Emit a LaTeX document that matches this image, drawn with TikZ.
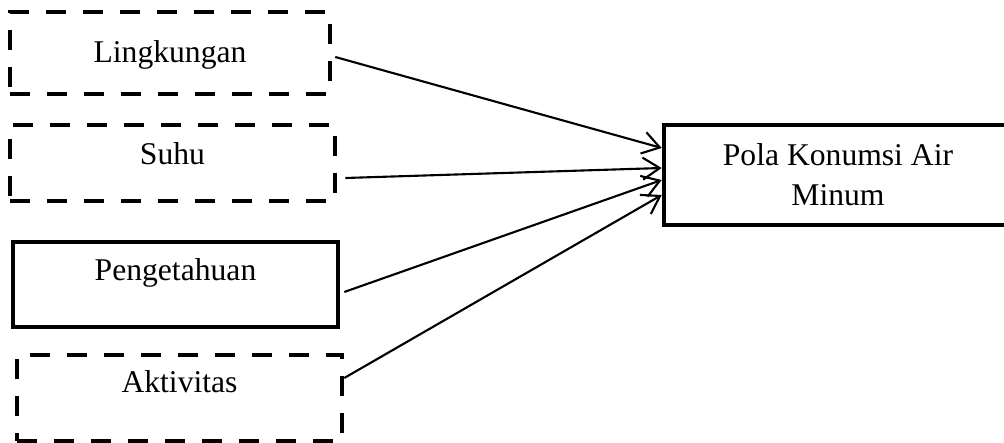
\documentclass[tikz,border=0pt]{standalone}
\usepackage{fontspec}
\setmainfont{Liberation Serif}
\usetikzlibrary{arrows.meta}

\begin{document}
\begin{tikzpicture}[->,>={Straight Barb[length=0.34cm,width=0.44cm]},
  every node/.style={font=\fontsize{18}{22.8}\selectfont, inner sep=0pt},
  dashbox/.style={draw, line width=2.6pt, dash pattern=on 0.4cm off 0.34cm, anchor=base, minimum width=6.5cm},
  solidbox/.style={draw, line width=2.6pt, anchor=base, minimum width=6.5cm},
  link/.style={line width=1.2pt}]
\clip (0,0) rectangle (20.08,8.86);
%left column
\node[dashbox, minimum width=6.4cm, text height=1.02cm, text depth=0.62cm] (lingkungan) at (3.4,7.6) {Lingkungan};
\node[dashbox, text height=0.8cm, text depth=0.72cm] (suhu) at (3.45,5.56) {Suhu};
\node[solidbox, text height=0.78cm, text depth=0.92cm] (pengetahuan) at (3.51,3.24) {Pengetahuan};
\node[dashbox, text height=0.76cm, text depth=0.96cm] (aktivitas) at (3.59,1.0) {Aktivitas};
%right box, cut by the page edge
\node[draw, line width=2.6pt, minimum width=7.6cm, minimum height=2cm, align=center] (pola) at (17.08,5.36) {\hspace*{-0.64cm}Pola Konumsi Air\\\hspace*{-0.64cm}Minum};
%arrows
\draw[link] ([xshift=0.06cm, yshift=-0.08cm]lingkungan.east) -- ([yshift=0.54cm]pola.west);
\draw[link] ([xshift=0.16cm, yshift=-0.3cm]suhu.east) -- ([yshift=0.14cm]pola.west);
\draw[link] ([xshift=0.08cm, yshift=-0.15cm]pengetahuan.east) -- ([yshift=-0.1cm]pola.west);
\draw[link] ([yshift=0.4cm]aktivitas.east) -- ([yshift=-0.4cm]pola.west);
\end{tikzpicture}
\end{document}
